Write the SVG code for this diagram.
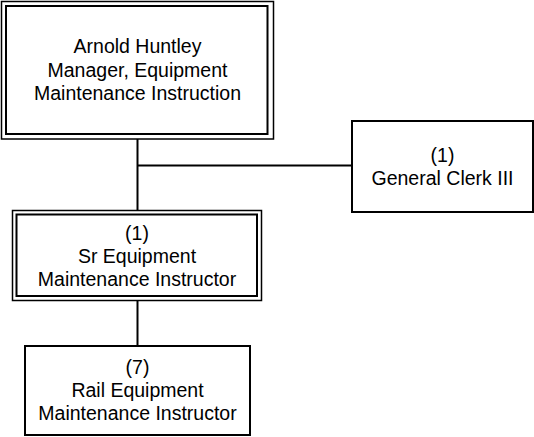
<svg xmlns="http://www.w3.org/2000/svg" width="534" height="437" viewBox="0 0 534 437">
<style>
.box{fill:#fff;stroke:#000;stroke-width:2}
.outer{fill:#fff;stroke:#000;stroke-width:1.5}
.inner{fill:none;stroke:#000;stroke-width:2}
.line{stroke:#000;stroke-width:2;fill:none}
text{font-family:"Liberation Sans",Arial,sans-serif;font-size:19.5px;fill:#000;text-anchor:middle}
</style>
<rect width="534" height="437" fill="#fff"/>
<g id="connectors">
<line class="line" x1="137.5" y1="139" x2="137.5" y2="211"/>
<line class="line" x1="137.5" y1="165.5" x2="352" y2="165.5"/>
<line class="line" x1="137.5" y1="300.5" x2="137.5" y2="346"/>
</g>
<g id="node-manager">
<rect class="outer" x="1.5" y="1.5" width="272" height="137.5"/>
<rect class="inner" x="6" y="6" width="261.5" height="128"/>
<text x="137.5" y="53.3">Arnold Huntley</text>
<text x="137.5" y="76.8">Manager, Equipment</text>
<text x="137.5" y="100.3">Maintenance Instruction</text>
</g>
<g id="node-clerk">
<rect class="box" x="352" y="121" width="181" height="91"/>
<text x="442.5" y="162">(1)</text>
<text x="442.5" y="185.3">General Clerk III</text>
</g>
<g id="node-sr">
<rect class="outer" x="12.5" y="210.5" width="249" height="90"/>
<rect class="inner" x="16.5" y="214.5" width="240.5" height="81.5"/>
<text x="137" y="239.7">(1)</text>
<text x="137" y="263">Sr Equipment</text>
<text x="137" y="286.3">Maintenance Instructor</text>
</g>
<g id="node-rail">
<rect class="box" x="25" y="346" width="225" height="89"/>
<text x="137.5" y="373.5">(7)</text>
<text x="137.5" y="396.8">Rail Equipment</text>
<text x="137.5" y="420.1">Maintenance Instructor</text>
</g>
</svg>
